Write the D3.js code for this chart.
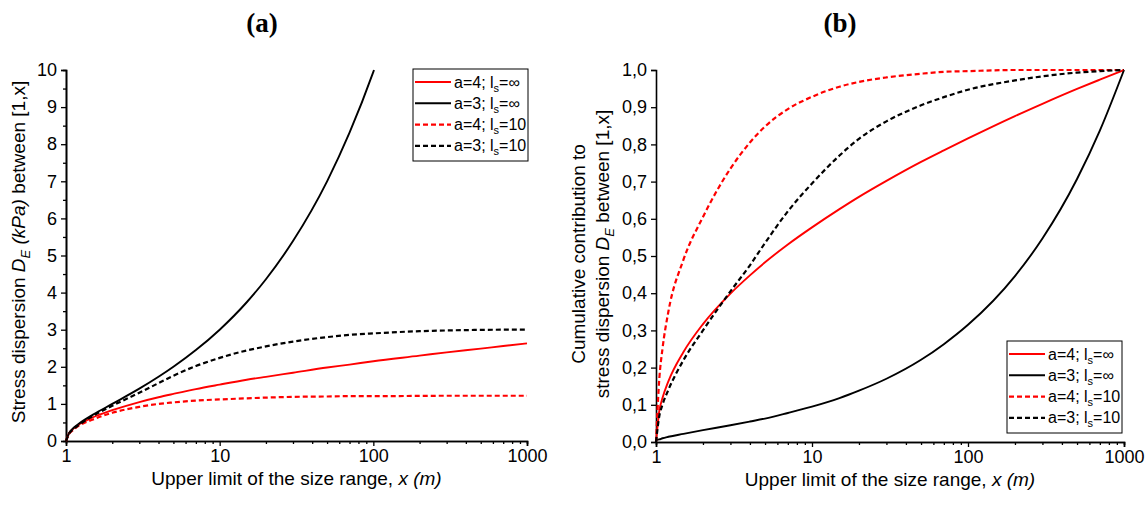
<!DOCTYPE html>
<html>
<head>
<meta charset="utf-8">
<script src="https://cdn.jsdelivr.net/npm/d3@7"></script>
<style>
  body { margin: 0; background: #fff; }
  svg { font-family: "Liberation Sans", Arial, sans-serif; }
</style>
</head>
<body>
<svg id="chart" width="1146" height="507"></svg>
<script>

// Panel (a): stress dispersion D_E (kPa)
var xA = [1, 1.05, 1.1, 1.2, 1.5, 2, 3, 4, 5, 7, 10, 15, 20, 30, 50, 70, 100, 200, 300, 500, 700, 1000];
var a4InfA  = [0, 0.22, 0.31, 0.43, 0.64, 0.83, 1.05, 1.18, 1.27, 1.40, 1.52, 1.65, 1.73, 1.84, 1.98, 2.06, 2.15, 2.30, 2.39, 2.49, 2.56, 2.63];
var a4TenA  = [0, 0.20, 0.28, 0.40, 0.58, 0.76, 0.92, 1.00, 1.04, 1.09, 1.12, 1.15, 1.17, 1.19, 1.20, 1.21, 1.21, 1.215, 1.22, 1.22, 1.22, 1.22];
var a3TenA  = [0, 0.21, 0.30, 0.42, 0.68, 0.95, 1.30, 1.56, 1.76, 2.02, 2.24, 2.44, 2.55, 2.68, 2.80, 2.86, 2.90, 2.96, 2.98, 2.995, 3.00, 3.00];
// a=3, ls=inf leaves the frame at the top near x=100
var xA3 = [1, 1.05, 1.1, 1.2, 1.5, 2, 3, 4, 5, 7, 10, 15, 20, 30, 50, 70, 100, 101];
var a3InfA  = [0, 0.22, 0.32, 0.45, 0.71, 1.00, 1.41, 1.73, 2.00, 2.45, 3.00, 3.74, 4.36, 5.39, 7.00, 8.31, 9.95, 10.0];

// Panel (b): cumulative contribution
var xB = [1, 1.05, 1.1, 1.2, 1.5, 2, 3, 4, 5, 7, 10, 15, 20, 30, 50, 70, 100, 200, 300, 500, 700, 1000];
var a4InfB = [0, 0.084, 0.118, 0.163, 0.242, 0.317, 0.399, 0.448, 0.483, 0.531, 0.577, 0.626, 0.659, 0.702, 0.753, 0.784, 0.816, 0.876, 0.909, 0.949, 0.974, 1.0];
var a3InfB = [0.005, 0.007, 0.010, 0.014, 0.022, 0.032, 0.045, 0.055, 0.063, 0.078, 0.095, 0.118, 0.138, 0.170, 0.221, 0.263, 0.315, 0.446, 0.547, 0.707, 0.837, 1.0];
var a4TenB = [0, 0.17, 0.25, 0.35, 0.49, 0.605, 0.735, 0.805, 0.848, 0.895, 0.928, 0.955, 0.968, 0.98, 0.99, 0.995, 0.997, 1.0, 1.0, 1.0, 1.0, 1.0];
var a3TenB = [0, 0.07, 0.10, 0.14, 0.22, 0.30, 0.405, 0.475, 0.535, 0.62, 0.695, 0.77, 0.815, 0.862, 0.905, 0.927, 0.947, 0.972, 0.983, 0.993, 0.997, 1.0];

var xTicks = [1, 10, 100, 1000];
var yTicksA = [0, 1, 2, 3, 4, 5, 6, 7, 8, 9, 10];
var yTicksB = [0, 0.1, 0.2, 0.3, 0.4, 0.5, 0.6, 0.7, 0.8, 0.9, 1.0];

var legendLabels = [
  { a: 'a=4; l', s: 's', r: '=\u221e', color: '#ff0000', dash: null },
  { a: 'a=3; l', s: 's', r: '=\u221e', color: '#000000', dash: null },
  { a: 'a=4; l', s: 's', r: '=10', color: '#ff0000', dash: '5,3' },
  { a: 'a=3; l', s: 's', r: '=10', color: '#000000', dash: '5,3' }
];

var svg = d3.select('#chart');

function drawPanel(opt){
  var x = d3.scaleLog().domain([1, 1000]).range([opt.left, opt.right]);
  var y = d3.scaleLinear().domain(opt.ydomain).range([opt.bottom, opt.top]);
  var g = svg.append('g');

  // minor x ticks 2..9 in each decade
  var minorX = [];
  for (var d = 1; d < 1000; d *= 10) {
    for (var k = 2; k < 10; k++) minorX.push(d * k);
  }
  var xAxis = d3.axisBottom(x).tickValues(xTicks).tickFormat(d3.format('d')).tickSizeOuter(0).tickSize(5).tickPadding(2);
  var xMinor = d3.axisBottom(x).tickValues(minorX).tickFormat('').tickSizeOuter(0).tickSize(3);
  g.append('g').attr('transform', 'translate(0,' + opt.bottom + ')').call(xMinor);
  g.append('g').attr('class', 'xaxis').attr('transform', 'translate(0,' + opt.bottom + ')').call(xAxis);

  var yAxis = d3.axisLeft(y).tickValues(opt.yticks).tickFormat(opt.yfmt).tickSizeOuter(0).tickSize(5).tickPadding(4);
  if (opt.yminor) {
    var yMinor = d3.axisLeft(y).tickValues(opt.yminor).tickFormat('').tickSizeOuter(0).tickSize(3);
    g.append('g').attr('transform', 'translate(' + opt.left + ',0)').call(yMinor);
  }
  g.append('g').attr('class', 'yaxis').attr('transform', 'translate(' + opt.left + ',0)').call(yAxis);

  g.selectAll('.domain').attr('stroke', '#000').attr('stroke-width', 1.6);
  g.selectAll('.tick line').attr('stroke', '#000').attr('stroke-width', 1.3);
  g.selectAll('.tick text').attr('font-size', 18).attr('fill', '#000');
  g.selectAll('.xaxis .tick text').attr('dy', '0.78em');

  var line = d3.line()
    .x(function(p){ return x(p[0]); })
    .y(function(p){ return y(p[1]); })
    .curve(d3.curveMonotoneX);

  opt.series.forEach(function(s){
    var pts = s.xs.map(function(v, i){ return [v, s.ys[i]]; });
    g.append('path')
      .attr('d', line(pts))
      .attr('fill', 'none')
      .attr('stroke', s.color)
      .attr('stroke-width', s.dash ? 2.2 : 1.9)
      .attr('stroke-dasharray', s.dash);
  });

  // legend
  var lg = g.append('g');
  lg.append('rect')
    .attr('x', opt.legend.x).attr('y', opt.legend.y)
    .attr('width', opt.legend.w).attr('height', opt.legend.h)
    .attr('fill', '#fff').attr('stroke', '#000').attr('stroke-width', 1);
  legendLabels.forEach(function(l, i){
    var yy = opt.legend.y + 13 + i * 21.3;
    lg.append('line')
      .attr('x1', opt.legend.x + 2).attr('x2', opt.legend.x + 38)
      .attr('y1', yy).attr('y2', yy)
      .attr('stroke', l.color).attr('stroke-width', l.dash ? 2.2 : 1.9)
      .attr('stroke-dasharray', l.dash);
    var t = lg.append('text')
      .attr('x', opt.legend.x + 41).attr('y', yy + 5.5)
      .attr('font-size', 16).attr('fill', '#000');
    t.append('tspan').text(l.a);
    t.append('tspan').attr('font-size', 11).attr('dy', 4).text(l.s);
    t.append('tspan').attr('dy', -4).text(l.r);
  });

  // x title
  var xt = g.append('text')
    .attr('x', (opt.left + opt.right) / 2).attr('y', opt.bottom + 44)
    .attr('text-anchor', 'middle').attr('font-size', 19).attr('fill', '#000');
  xt.append('tspan').text('Upper limit of the size range, ');
  xt.append('tspan').attr('font-style', 'italic').text('x (m)');

  // panel title
  g.append('text')
    .attr('x', opt.titleX).attr('y', 32)
    .attr('text-anchor', 'middle')
    .attr('font-family', '"Liberation Serif", "Times New Roman", serif')
    .attr('font-weight', 'bold').attr('font-size', 27).attr('fill', '#000')
    .text(opt.title);
  return g;
}

function yTitleLine(g, cx, cy, parts){
  var t = g.append('text')
    .attr('transform', 'translate(' + cx + ',' + cy + ') rotate(-90)')
    .attr('text-anchor', 'middle').attr('font-size', 19).attr('fill', '#000');
  parts.forEach(function(p){
    var ts = t.append('tspan').text(p.t);
    if (p.i) ts.attr('font-style', 'italic');
    if (p.sub) ts.attr('font-size', 13).attr('dy', 5);
    if (p.up) ts.attr('dy', -5);
  });
}

var gA = drawPanel({
  left: 66, right: 527, top: 70, bottom: 441,
  ydomain: [0, 10], yticks: yTicksA,
  yminor: d3.range(0.5, 10, 1),
  yfmt: d3.format('d'),
  series: [
    { xs: xA, ys: a4InfA, color: '#ff0000', dash: null },
    { xs: xA3, ys: a3InfA, color: '#000000', dash: null },
    { xs: xA, ys: a4TenA, color: '#ff0000', dash: '5,3' },
    { xs: xA, ys: a3TenA, color: '#000000', dash: '5,3' }
  ],
  legend: { x: 413, y: 69, w: 115, h: 92 },
  title: '(a)', titleX: 262
});
yTitleLine(gA, 25, 252, [
  { t: 'Stress dispersion ' }, { t: 'D', i: true }, { t: 'E', i: true, sub: true },
  { t: ' (kPa)', i: true, up: true }, { t: ' between [1,x]' }
]);

var commaFmt = function(v){ return d3.format('.1f')(v).replace('.', ','); };
var gB = drawPanel({
  left: 656, right: 1124, top: 70, bottom: 442,
  ydomain: [0, 1], yticks: yTicksB,
  yminor: null,
  yfmt: commaFmt,
  series: [
    { xs: xB, ys: a4InfB, color: '#ff0000', dash: null },
    { xs: xB, ys: a3InfB, color: '#000000', dash: null },
    { xs: xB, ys: a4TenB, color: '#ff0000', dash: '5,3' },
    { xs: xB, ys: a3TenB, color: '#000000', dash: '5,3' }
  ],
  legend: { x: 1007, y: 341, w: 115, h: 92 },
  title: '(b)', titleX: 840
});
yTitleLine(gB, 585, 254, [{ t: 'Cumulative contribution to' }]);
yTitleLine(gB, 609, 254, [
  { t: 'stress dispersion ' }, { t: 'D', i: true }, { t: 'E', i: true, sub: true },
  { t: ' between [1,x]', up: true }
]);

</script>
</body>
</html>
